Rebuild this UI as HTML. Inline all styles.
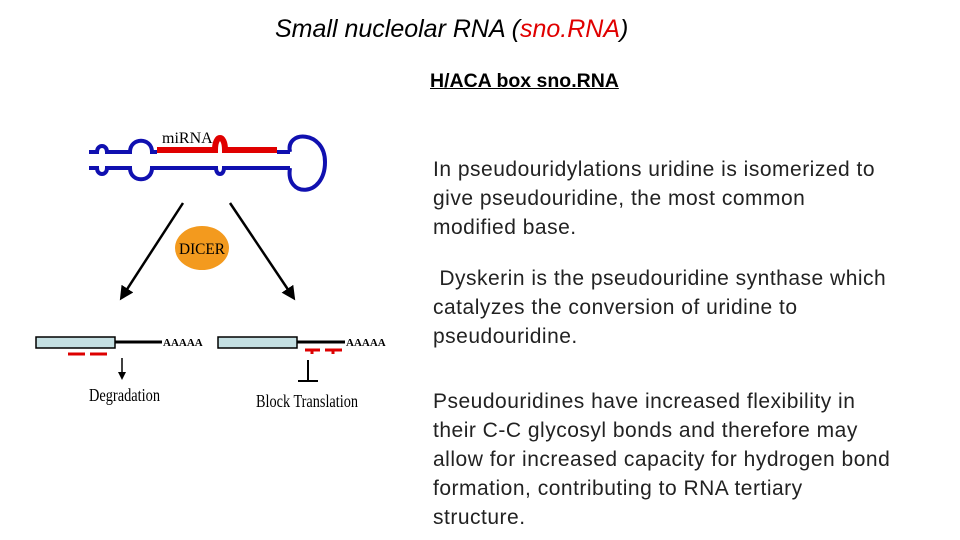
<!DOCTYPE html>
<html><head><meta charset="utf-8"><style>
body{margin:0;width:960px;height:540px;background:#fff;position:relative;overflow:hidden;font-family:"Liberation Sans",sans-serif}
.t{position:absolute;white-space:nowrap;color:#000}
.p{font-size:21px;letter-spacing:0.5px;line-height:29px;left:433px;color:#222}
</style></head><body>
<div class="t" style="left:275px;top:15px;font-size:25px;font-style:italic">Small nucleolar RNA (<span style="color:#e00000">sno.RNA</span>)</div>
<div class="t" style="left:430px;top:70px;font-size:19.5px;font-weight:bold;text-decoration:underline">H/ACA box sno.RNA</div>
<div class="t p" style="top:155px">In pseudouridylations uridine is isomerized to<br>give pseudouridine, the most common<br>modified base.</div>
<div class="t p" style="top:264px">&nbsp;Dyskerin is the pseudouridine synthase which<br>catalyzes the conversion of uridine to<br>pseudouridine.</div>
<div class="t p" style="top:387px">Pseudouridines have increased flexibility in<br>their C-C glycosyl bonds and therefore may<br>allow for increased capacity for hydrogen bond<br>formation, contributing to RNA tertiary<br>structure.</div>
<svg width="960" height="540" style="position:absolute;left:0;top:0">
<defs><marker id="a" markerWidth="8" markerHeight="8" refX="6" refY="4" orient="auto" markerUnits="userSpaceOnUse"><path d="M0,0L8,4L0,8z" fill="#000"/></marker>
<marker id="b" markerWidth="14" markerHeight="14" refX="10" refY="7" orient="auto" markerUnits="userSpaceOnUse"><path d="M0,0L14,7L0,14z" fill="#000"/></marker></defs>
<g fill="none" stroke="#1010b0" stroke-width="4">
<path d="M89,152H97C97,144 107,144 107,152H130C130,137 152,137 152,152H157"/>
<path d="M277,152H290"/>
<path d="M89,168H97C97,176 107,176 107,168H130C130,183 152,183 152,168H216C216,176 224,176 224,168H290"/>
<path d="M290,152C285,130 325,130 325,162C325,198 285,198 290,168"/>
</g>
<path d="M157,150H215C215,134 225,134 225,150H277" fill="none" stroke="#e00000" stroke-width="6"/>
<text x="162" y="143" font-family="Liberation Serif" font-size="16">miRNA</text>
<line x1="183" y1="203" x2="122" y2="297" stroke="#000" stroke-width="2.5" marker-end="url(#b)"/>
<line x1="230" y1="203" x2="293" y2="297" stroke="#000" stroke-width="2.5" marker-end="url(#b)"/>
<ellipse cx="202" cy="248" rx="27" ry="22" fill="#f39a1e"/>
<text x="202" y="254" text-anchor="middle" font-family="Liberation Serif" font-size="16" textLength="46" lengthAdjust="spacingAndGlyphs">DICER</text>
<rect x="36" y="337" width="79" height="11" fill="#c5e0e3" stroke="#000" stroke-width="1.5"/>
<line x1="115" y1="342" x2="162" y2="342" stroke="#000" stroke-width="3"/>
<text x="163" y="346" font-family="Liberation Serif" font-size="11" font-weight="bold">AAAAA</text>
<line x1="68" y1="354" x2="85" y2="354" stroke="#d00" stroke-width="3"/>
<line x1="90" y1="354" x2="107" y2="354" stroke="#d00" stroke-width="3"/>
<line x1="122" y1="358" x2="122" y2="378" stroke="#000" stroke-width="1.5" marker-end="url(#a)"/>
<text x="89" y="401" font-family="Liberation Serif" font-size="18" textLength="71" lengthAdjust="spacingAndGlyphs">Degradation</text>
<rect x="218" y="337" width="79" height="11" fill="#c5e0e3" stroke="#000" stroke-width="1.5"/>
<line x1="297" y1="342" x2="345" y2="342" stroke="#000" stroke-width="3"/>
<text x="346" y="346" font-family="Liberation Serif" font-size="11" font-weight="bold">AAAAA</text>
<path d="M305,350H320M312,350V354M325,350H342M333,350V354" stroke="#d00" stroke-width="3" fill="none"/>
<path d="M308,360V381M298,381H318" stroke="#000" stroke-width="2" fill="none"/>
<text x="256" y="407" font-family="Liberation Serif" font-size="18" textLength="102" lengthAdjust="spacingAndGlyphs">Block Translation</text>
</svg>
</body></html>
